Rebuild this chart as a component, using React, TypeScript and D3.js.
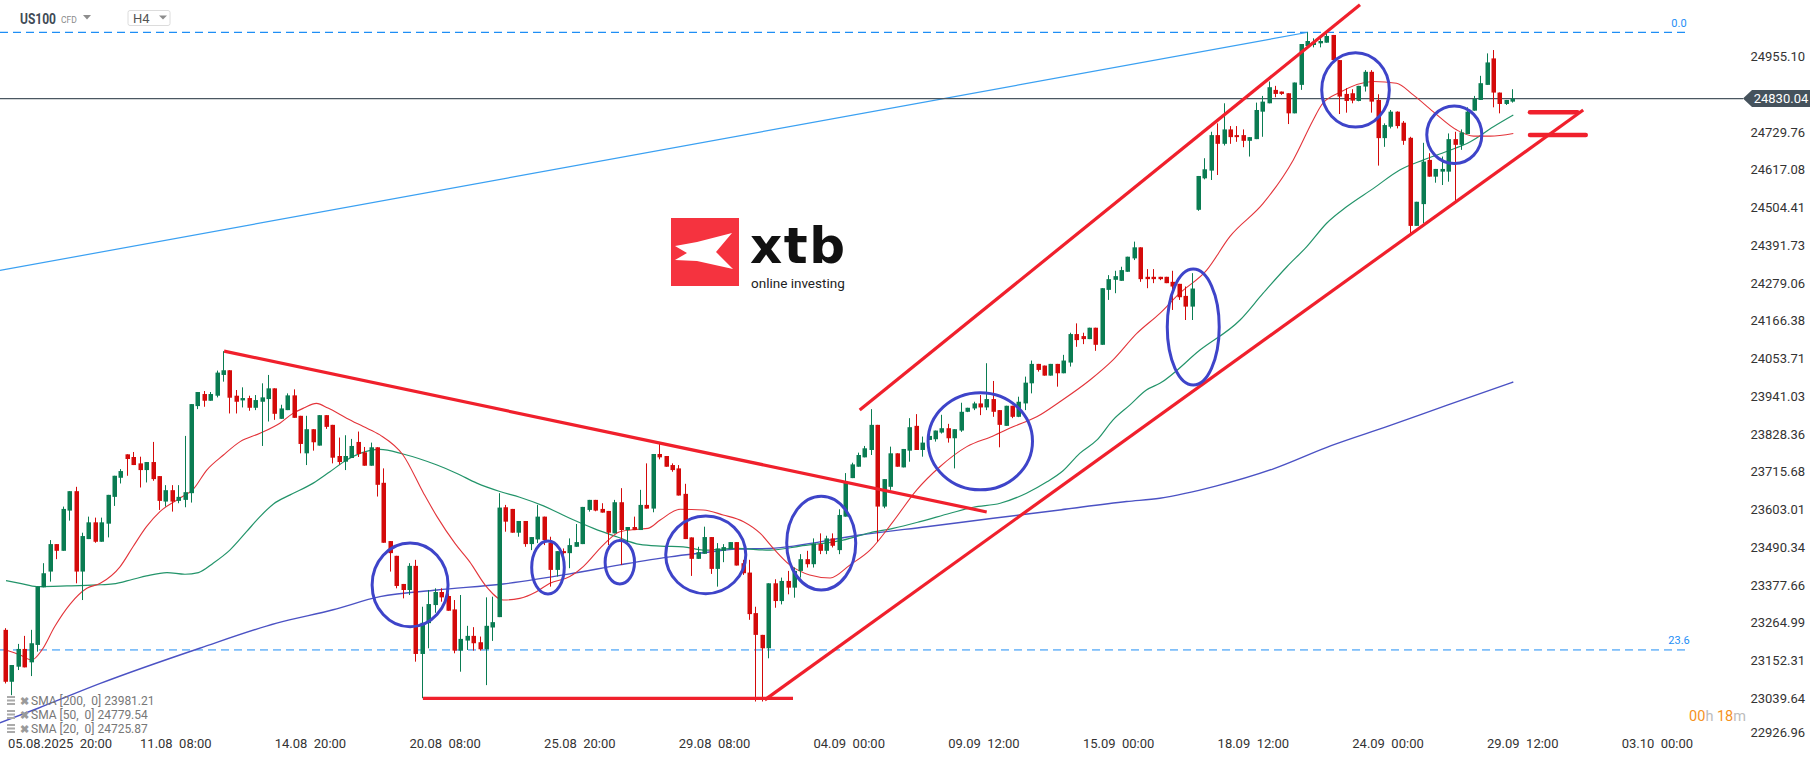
import React from 'react';
import * as d3 from 'd3';

const W = 1815;
const H = 761;

// OHLC per 4h bar (index 0 = 05.08 00:00)
const candles: [number, number, number, number][] = [
  [23244, 23249, 23084, 23089], [23089, 23139, 23049, 23139], [23134, 23202, 23124, 23187], [23187, 23226, 23132, 23132],
  [23147, 23244, 23106, 23204], [23199, 23373, 23179, 23373], [23371, 23443, 23371, 23413], [23418, 23512, 23388, 23500],
  [23500, 23500, 23455, 23480], [23480, 23612, 23480, 23605], [23600, 23658, 23570, 23658], [23658, 23671, 23383, 23418],
  [23418, 23534, 23333, 23524], [23515, 23582, 23515, 23565], [23565, 23579, 23504, 23507], [23507, 23579, 23507, 23565],
  [23561, 23647, 23520, 23647], [23641, 23704, 23614, 23704], [23698, 23724, 23681, 23718], [23768, 23768, 23704, 23754],
  [23760, 23775, 23736, 23736], [23741, 23761, 23669, 23721], [23721, 23745, 23684, 23745], [23745, 23805, 23689, 23694],
  [23703, 23703, 23602, 23629], [23627, 23676, 23612, 23661], [23661, 23676, 23597, 23627], [23629, 23676, 23622, 23641],
  [23632, 23823, 23610, 23655], [23652, 23918, 23624, 23918], [23912, 23954, 23903, 23954], [23948, 23957, 23910, 23928],
  [23928, 23954, 23928, 23948], [23943, 24018, 23938, 24012], [24005, 24076, 23985, 24019], [24019, 24019, 23890, 23937],
  [23943, 23960, 23890, 23925], [23929, 23968, 23908, 23936], [23936, 23943, 23898, 23907], [23907, 23945, 23900, 23930],
  [23925, 23980, 23793, 23938], [23933, 24005, 23866, 23965], [23965, 23965, 23871, 23889], [23874, 23916, 23874, 23905],
  [23900, 23950, 23900, 23944], [23944, 23962, 23877, 23877], [23883, 23883, 23771, 23799], [23771, 23883, 23736, 23843],
  [23843, 23843, 23779, 23804], [23794, 23885, 23794, 23885], [23885, 23885, 23844, 23850], [23856, 23856, 23741, 23758],
  [23763, 23818, 23737, 23745], [23746, 23825, 23721, 23763], [23757, 23814, 23757, 23793], [23805, 23836, 23760, 23769],
  [23774, 23790, 23734, 23734], [23734, 23803, 23734, 23789], [23789, 23789, 23642, 23677], [23683, 23726, 23504, 23504],
  [23509, 23509, 23418, 23473], [23465, 23465, 23368, 23375], [23381, 23381, 23338, 23363], [23363, 23443, 23348, 23435],
  [23435, 23453, 23149, 23172], [23172, 23313, 23040, 23265], [23264, 23363, 23189, 23321], [23318, 23368, 23295, 23357],
  [23357, 23368, 23328, 23341], [23345, 23353, 23301, 23301], [23305, 23333, 23174, 23182], [23182, 23348, 23119, 23217],
  [23212, 23256, 23184, 23226], [23226, 23252, 23182, 23204], [23207, 23224, 23182, 23186], [23186, 23341, 23079, 23256],
  [23251, 23343, 23211, 23267], [23282, 23652, 23282, 23609], [23610, 23617, 23537, 23567], [23605, 23605, 23534, 23534],
  [23534, 23569, 23522, 23569], [23569, 23569, 23492, 23500], [23500, 23521, 23482, 23521], [23514, 23617, 23503, 23582],
  [23582, 23582, 23497, 23512], [23504, 23522, 23373, 23423], [23423, 23479, 23403, 23479], [23479, 23487, 23468, 23473],
  [23473, 23517, 23428, 23497], [23492, 23560, 23492, 23506], [23500, 23611, 23500, 23611], [23602, 23632, 23597, 23632],
  [23632, 23632, 23598, 23600], [23605, 23622, 23594, 23594], [23599, 23599, 23497, 23534], [23532, 23632, 23532, 23625],
  [23625, 23667, 23438, 23542], [23542, 23551, 23503, 23551], [23551, 23582, 23542, 23542], [23542, 23662, 23542, 23617],
  [23617, 23741, 23606, 23606], [23606, 23769, 23595, 23769], [23769, 23799, 23753, 23759], [23763, 23763, 23731, 23731],
  [23736, 23741, 23716, 23721], [23726, 23736, 23645, 23645], [23650, 23680, 23515, 23515], [23520, 23520, 23405, 23456],
  [23456, 23492, 23456, 23476], [23471, 23552, 23471, 23521], [23521, 23521, 23411, 23426], [23426, 23503, 23373, 23487],
  [23480, 23500, 23446, 23491], [23485, 23506, 23485, 23506], [23506, 23506, 23436, 23436], [23443, 23453, 23408, 23413],
  [23415, 23453, 23274, 23291], [23294, 23313, 23030, 23229], [23229, 23229, 23030, 23189], [23189, 23383, 23159, 23383],
  [23383, 23395, 23310, 23330], [23330, 23400, 23320, 23390], [23390, 23420, 23350, 23370], [23370, 23430, 23340, 23420],
  [23420, 23470, 23400, 23455], [23455, 23480, 23430, 23440], [23440, 23517, 23430, 23502], [23500, 23532, 23470, 23480],
  [23480, 23525, 23470, 23517], [23517, 23532, 23490, 23495], [23482, 23604, 23470, 23587], [23582, 23712, 23582, 23686],
  [23697, 23743, 23697, 23738], [23731, 23773, 23731, 23766], [23759, 23793, 23759, 23786], [23781, 23903, 23766, 23856],
  [23856, 23856, 23507, 23612], [23612, 23694, 23607, 23694], [23671, 23791, 23662, 23771], [23771, 23771, 23731, 23731],
  [23729, 23784, 23729, 23784], [23779, 23876, 23746, 23849], [23853, 23888, 23781, 23781], [23781, 23821, 23761, 23803],
  [23811, 23823, 23811, 23823], [23813, 23839, 23806, 23839], [23833, 23886, 23830, 23846], [23846, 23859, 23803, 23816],
  [23816, 23843, 23726, 23843], [23839, 23922, 23835, 23895], [23895, 23907, 23894, 23907], [23905, 23925, 23900, 23920],
  [23920, 23945, 23885, 23908], [23908, 24040, 23900, 23933], [23933, 23987, 23880, 23895], [23900, 23900, 23789, 23856],
  [23853, 23913, 23853, 23913], [23913, 23913, 23876, 23880], [23880, 23940, 23879, 23925], [23920, 24000, 23900, 23982],
  [23980, 24048, 23950, 24038], [24038, 24038, 24015, 24020], [24033, 24033, 24003, 24003], [24003, 24038, 24003, 24038],
  [24038, 24038, 23970, 24010], [24010, 24065, 24010, 24048], [24042, 24131, 24030, 24127], [24127, 24159, 24089, 24109],
  [24121, 24131, 24097, 24112], [24112, 24146, 24112, 24146], [24146, 24146, 24077, 24095], [24095, 24264, 24095, 24264],
  [24259, 24303, 24229, 24291], [24289, 24316, 24249, 24300], [24286, 24328, 24286, 24318], [24313, 24358, 24313, 24358],
  [24353, 24403, 24348, 24386], [24386, 24386, 24283, 24291], [24298, 24321, 24264, 24291], [24298, 24321, 24279, 24291],
  [24298, 24298, 24288, 24291], [24298, 24298, 24279, 24279], [24283, 24316, 24199, 24269], [24277, 24277, 24229, 24237],
  [24241, 24269, 24169, 24209], [24209, 24309, 24169, 24263], [24498, 24599, 24495, 24599], [24592, 24652, 24589, 24619],
  [24615, 24731, 24587, 24721], [24721, 24756, 24602, 24695], [24695, 24816, 24690, 24738], [24738, 24748, 24695, 24715],
  [24721, 24748, 24701, 24715], [24721, 24738, 24685, 24704], [24704, 24715, 24657, 24715], [24709, 24818, 24709, 24796],
  [24791, 24838, 24716, 24821], [24816, 24881, 24816, 24864], [24856, 24868, 24834, 24844], [24851, 24851, 24841, 24844],
  [24846, 24846, 24754, 24786], [24786, 24878, 24786, 24878], [24871, 24993, 24856, 24993], [24987, 25028, 24987, 25002],
  [24990, 25010, 24983, 24998], [24995, 25015, 24983, 25002], [24997, 25025, 24997, 25017], [25020, 25020, 24945, 24945],
  [24945, 24945, 24784, 24836], [24844, 24861, 24788, 24823], [24846, 24858, 24816, 24824], [24823, 24868, 24822, 24868],
  [24866, 24915, 24851, 24910], [24910, 24915, 24788, 24821], [24826, 24843, 24630, 24712], [24712, 24756, 24686, 24751],
  [24746, 24796, 24741, 24791], [24791, 24792, 24741, 24748], [24758, 24763, 24692, 24704], [24713, 24716, 24428, 24450],
  [24450, 24522, 24450, 24522], [24515, 24698, 24458, 24642], [24647, 24667, 24597, 24597], [24597, 24620, 24579, 24620],
  [24612, 24657, 24572, 24620], [24612, 24726, 24582, 24709], [24709, 24731, 24525, 24692], [24692, 24738, 24677, 24729],
  [24724, 24804, 24724, 24791], [24794, 24838, 24794, 24829], [24826, 24898, 24826, 24876], [24871, 24965, 24871, 24938],
  [24950, 24975, 24804, 24848], [24848, 24848, 24786, 24814], [24814, 24826, 24811, 24826], [24821, 24858, 24818, 24830],
];

// Moving averages sampled along the chart: [bar index, price]
const sma20: [number, number][] = [
  [0, 23184], [2.2, 23169], [4, 23154], [5.6, 23184], [7.6, 23254], [10, 23321], [12.6, 23368], [14.7, 23383],
  [17.8, 23433], [19.8, 23492], [21.9, 23552], [24, 23597], [27.1, 23637], [29.2, 23664], [31.3, 23721], [33.9, 23766],
  [36.5, 23806], [39.6, 23831], [42.7, 23861], [44.8, 23891], [46.4, 23906], [48.4, 23920], [50.2, 23906], [53.1, 23876],
  [55.7, 23851], [58.3, 23826], [61.9, 23766], [65.1, 23652], [67.2, 23582], [70, 23502], [72.3, 23447], [74.9, 23373],
  [77.5, 23333], [80.1, 23338], [82.7, 23358], [84.8, 23383], [87.9, 23403], [90, 23433], [93.1, 23497], [95.7, 23537],
  [98.3, 23544], [100.1, 23547], [102, 23572], [105.1, 23604], [108.7, 23602], [111.8, 23587], [115, 23567], [117.6, 23532],
  [119.6, 23488], [122.2, 23438], [125.3, 23408], [128.5, 23399], [131.6, 23438], [134.7, 23482], [138.3, 23567], [142, 23662],
  [145.6, 23731], [149.8, 23791], [153.9, 23823], [157.1, 23851], [160.7, 23880], [164.3, 23925], [169, 23990], [172.6, 24050],
  [176.3, 24129], [179.9, 24189], [183, 24249], [187.2, 24318], [190.8, 24418], [196, 24517], [200.7, 24647], [203.8, 24766],
  [205.1, 24811], [207.9, 24848], [213.2, 24881], [216.8, 24876], [219.4, 24841], [222.5, 24791], [226.2, 24736], [228.8, 24718],
  [231.4, 24718], [235, 24726],
];
const sma50: [number, number][] = [
  [0, 23391], [2.2, 23383], [4.8, 23373], [9.5, 23375], [14.1, 23378], [16.7, 23381], [19.8, 23395], [21.9, 23405],
  [25.1, 23415], [27.9, 23410], [30, 23415], [32.3, 23443], [34.9, 23482], [37.5, 23537], [39.6, 23582], [41.7, 23620],
  [44.3, 23647], [47.9, 23682], [50.5, 23716], [53.1, 23751], [55.2, 23771], [58.3, 23783], [61.9, 23769], [67.2, 23736],
  [70.3, 23711], [73.4, 23682], [77, 23657], [80.1, 23640], [83.8, 23614], [87.9, 23577], [91.6, 23547], [95.2, 23522],
  [98.8, 23499], [102, 23494], [105.6, 23492], [108.7, 23482], [113.9, 23487], [119.1, 23482], [123.8, 23494], [130.5, 23512],
  [134.7, 23534], [138.3, 23547], [142.5, 23567], [147.2, 23592], [150.8, 23610], [155, 23622], [159.1, 23652], [162.3, 23686],
  [164.8, 23719], [167.4, 23771], [170.1, 23811], [172.6, 23871], [175.2, 23915], [177.8, 23960], [179.9, 23980], [186.2, 24080],
  [192.4, 24169], [196, 24249], [199.7, 24328], [202.8, 24388], [205.9, 24458], [209, 24507], [213.2, 24562], [217.3, 24617],
  [221, 24647], [224.6, 24672], [228.3, 24701], [231.9, 24746], [235, 24781],
];
const sma200: [number, number][] = [
  [-1, 22966], [5, 23010], [14.7, 23084], [30.2, 23189], [42.2, 23264], [51, 23304], [58.3, 23343], [67.2, 23363],
  [77.5, 23381], [87.9, 23411], [95.7, 23438], [103.5, 23462], [108.7, 23474], [113.9, 23485], [119.1, 23487], [133.1, 23527],
  [143.5, 23552], [153.9, 23577], [164.3, 23602], [174.7, 23627], [179.9, 23637], [188.6, 23673], [197.5, 23724], [206.6, 23794],
  [215.6, 23853], [224.7, 23915], [235, 23984],
];

const priceTicks = [
  24955.10, 24729.76, 24617.08, 24504.41, 24391.73, 24279.06, 24166.38, 24053.71, 23941.03, 23828.36,
  23715.68, 23603.01, 23490.34, 23377.66, 23264.99, 23152.31, 23039.64, 22926.96,
];
const lastPrice = 24830.04;

const dateTicks: [number, string][] = [
  [26, '11.08  08:00'], [47, '14.08  20:00'], [68, '20.08  08:00'], [89, '25.08  20:00'], [110, '29.08  08:00'],
  [131, '04.09  00:00'], [152, '09.09  12:00'], [173, '15.09  00:00'], [194, '18.09  12:00'], [215, '24.09  00:00'],
  [236, '29.09  12:00'], [257, '03.10  00:00'],
];
const firstDateLabel = '05.08.2025  20:00';

const fibLevels: [string, number][] = [['0.0', 25028], ['23.6', 23184]];
const fibTrend: [number, number][] = [[-0.94, 24317], [203, 25028]];

// Hand-drawn red lines: pairs of [bar index, price]
const redLines: [number, number][][] = [
  [[34.0, 24076], [152.9, 23596]],
  [[65.0, 23039.6], [122.7, 23039.6]],
  [[118.3, 23035], [245.9, 24796]],
  [[133.1, 23900], [211.1, 25110]],
];
const redMarks: [number, number][][] = [
  [[237.6, 24789], [245.0, 24789]],
  [[237.6, 24721], [246.3, 24721]],
];
// Ellipses: centre bar, centre price, half-width (bars), half-height (price)
const ellipses: [number, number, number, number][] = [
  [63.0, 23378, 5.92, 125], [84.5, 23430, 2.54, 79], [95.7, 23446, 2.29, 65], [109.1, 23468, 6.24, 116],
  [127.1, 23503, 5.38, 140], [151.9, 23807, 8.14, 145], [185.1, 24148, 4.05, 173], [210.4, 24856, 5.27, 111],
  [225.8, 24722, 4.29, 86],
];

const legend: [string, string][] = [
  ['SMA [200,  0]', '23981.21'],
  ['SMA [50,  0]', '24779.54'],
  ['SMA [20,  0]', '24725.87'],
];

const FONT = "Roboto, 'Noto Sans', Arial, sans-serif";
const GREEN = '#0a7c52';
const RED = '#d40a0a';

export default function App() {
  const x = d3.scaleLinear().domain([0, 235]).range([6, 1513.3]);
  const y = d3.scaleLinear().domain([23039.64, 24955.10]).range([698.3, 56.7]);

  const line = d3
    .line<[number, number]>()
    .x((d) => x(d[0]))
    .y((d) => y(d[1]))
    .curve(d3.curveMonotoneX);

  const lastY = y(lastPrice);
  const bw = 4;

  // logo polygon (relative to square of 68px)
  const lx = 671;
  const ly = 218;
  const xPoly = [
    [4, 28], [26, 24], [61, 15], [45, 34], [62, 51], [26, 43], [4, 42], [16, 35],
  ]
    .map((p) => `${lx + p[0]},${ly + p[1]}`)
    .join(' ');

  return (
    <svg
      width={W}
      height={H}
      viewBox={`0 0 ${W} ${H}`}
      style={{ position: 'absolute', left: 0, top: 0, background: '#fff', fontFamily: FONT }}
    >
      <rect x={0} y={0} width={W} height={H} fill="#fff" />

      {/* fib levels */}
      {fibLevels.map(([lab, p], k) => (
        <g key={lab}>
          <line x1={0} x2={1690} y1={y(p)} y2={y(p)} stroke="#1e8ef5" strokeWidth={k === 0 ? 1.3 : 1} strokeDasharray="8,5" />
          <text x={1679} y={y(p) - 9} fontSize={11} fill="#1e8ef5" textAnchor="middle" dominantBaseline="central">
            {lab}
          </text>
        </g>
      ))}
      <line
        x1={x(fibTrend[0][0])}
        y1={y(fibTrend[0][1])}
        x2={x(fibTrend[1][0])}
        y2={y(fibTrend[1][1])}
        stroke="#3aa0f2"
        strokeWidth={1.2}
      />

      {/* current price line */}
      <line x1={0} x2={1743} y1={lastY} y2={lastY} stroke="#4a5761" strokeWidth={1.2} />

      {/* moving averages */}
      <path d={line(sma200) || ''} fill="none" stroke="#4b52c4" strokeWidth={1.4} />
      <path d={line(sma50) || ''} fill="none" stroke="#23946a" strokeWidth={1.2} />
      <path d={line(sma20) || ''} fill="none" stroke="#e3343a" strokeWidth={1.1} />

      {/* candles */}
      {candles.map(([o, h, l, c], i) => {
        const cx = Math.round(x(i));
        const col = c >= o ? GREEN : RED;
        const top = y(Math.max(o, c));
        const bot = y(Math.min(o, c));
        return (
          <g key={i}>
            <line x1={cx - 0.5} x2={cx - 0.5} y1={y(h)} y2={y(l)} stroke={col} strokeWidth={1} />
            <rect x={cx - bw / 2 - 0.5} y={top} width={bw + 0.5} height={Math.max(1.2, bot - top)} fill={col} />
          </g>
        );
      })}

      {/* red drawings */}
      {redLines.map((seg, k) => (
        <line
          key={k}
          x1={x(seg[0][0])}
          y1={y(seg[0][1])}
          x2={x(seg[1][0])}
          y2={y(seg[1][1])}
          stroke="#f0202c"
          strokeWidth={3.2}
        />
      ))}
      {redMarks.map((seg, k) => (
        <line
          key={'m' + k}
          x1={x(seg[0][0])}
          y1={y(seg[0][1])}
          x2={x(seg[1][0])}
          y2={y(seg[1][1])}
          stroke="#f0202c"
          strokeWidth={4.5}
          strokeLinecap="round"
        />
      ))}

      {/* blue ellipses */}
      {ellipses.map(([ci, cp, di, dp], k) => (
        <ellipse
          key={'e' + k}
          cx={x(ci)}
          cy={y(cp)}
          rx={x(ci + di) - x(ci)}
          ry={y(cp - dp) - y(cp)}
          fill="none"
          stroke="#3e44c9"
          strokeWidth={3}
        />
      ))}

      {/* logo */}
      <rect x={lx} y={ly} width={68} height={68} fill="#f5333f" />
      <polygon points={xPoly} fill="#fff" />
      <text x={750} y={263} fontSize={50} fontWeight={900} fill="#111" fontFamily="'DejaVu Sans', Arial, sans-serif" letterSpacing={1.5}>
        xtb
      </text>
      <text x={751} y={288} fontSize={13.5} fill="#222" fontFamily={FONT}>
        online investing
      </text>

      {/* header */}
      <text x={20} y={24} fontSize={14} fontWeight={700} fill="#3f4b56" textLength={36} lengthAdjust="spacingAndGlyphs">
        US100
      </text>
      <text x={61} y={23} fontSize={8.5} fill="#8a8a8a">
        CFD
      </text>
      <path d="M83,15 L91,15 L87,19.5 Z" fill="#8d8d8d" />
      <rect x={128} y={10.5} width={42} height={15} rx={2} fill="#fff" stroke="#dcdcdc" />
      <text x={133} y={23} fontSize={13} fill="#555">
        H4
      </text>
      <path d="M159,15.5 L167,15.5 L163,19.5 Z" fill="#8d8d8d" />

      {/* price axis */}
      {priceTicks.map((p) => (
        <text
          key={p}
          x={1805}
          y={Math.min(732, y(p))}
          fontSize={13}
          fill="#333"
          textAnchor="end"
          dominantBaseline="central"
        >
          {p.toFixed(2)}
        </text>
      ))}
      <path
        d={`M1743,${lastY} L1752,${lastY - 8.5} L1810,${lastY - 8.5} L1810,${lastY + 8.5} L1752,${lastY + 8.5} Z`}
        fill="#45525c"
      />
      <text x={1781} y={lastY} fontSize={13} fill="#fff" textAnchor="middle" dominantBaseline="central">
        {lastPrice.toFixed(2)}
      </text>

      {/* countdown */}
      <text x={1746} y={716} fontSize={14.5} textAnchor="end" dominantBaseline="central">
        <tspan fill="#f5921e">00</tspan>
        <tspan fill="#bcbcbc">h </tspan>
        <tspan fill="#f5921e">18</tspan>
        <tspan fill="#bcbcbc">m</tspan>
      </text>

      {/* time axis */}
      <text x={8} y={743} fontSize={13} fill="#333" dominantBaseline="central" style={{ whiteSpace: 'pre' }}>
        {firstDateLabel}
      </text>
      {dateTicks.map(([i, lab]) => (
        <text
          key={lab}
          x={x(i) + 3}
          y={743}
          fontSize={13}
          fill="#333"
          textAnchor="middle"
          dominantBaseline="central"
          style={{ whiteSpace: 'pre' }}
        >
          {lab}
        </text>
      ))}

      {/* legend */}
      {legend.map(([name, val], k) => {
        const ly2 = 701 + k * 14;
        return (
          <g key={name}>
            <rect x={7} y={ly2 - 5} width={8} height={2} fill="#aaa" />
            <rect x={7} y={ly2 - 1.5} width={8} height={2} fill="#aaa" />
            <rect x={7} y={ly2 + 2} width={8} height={2} fill="#aaa" />
            <text x={20} y={ly2} fontSize={11} fill="#9a9a9a" dominantBaseline="central" fontWeight={700}>
              ✖
            </text>
            <text x={31} y={ly2} fontSize={12} fill="#777" dominantBaseline="central" style={{ whiteSpace: 'pre' }}>
              {`${name} ${val}`}
            </text>
          </g>
        );
      })}
    </svg>
  );
}
